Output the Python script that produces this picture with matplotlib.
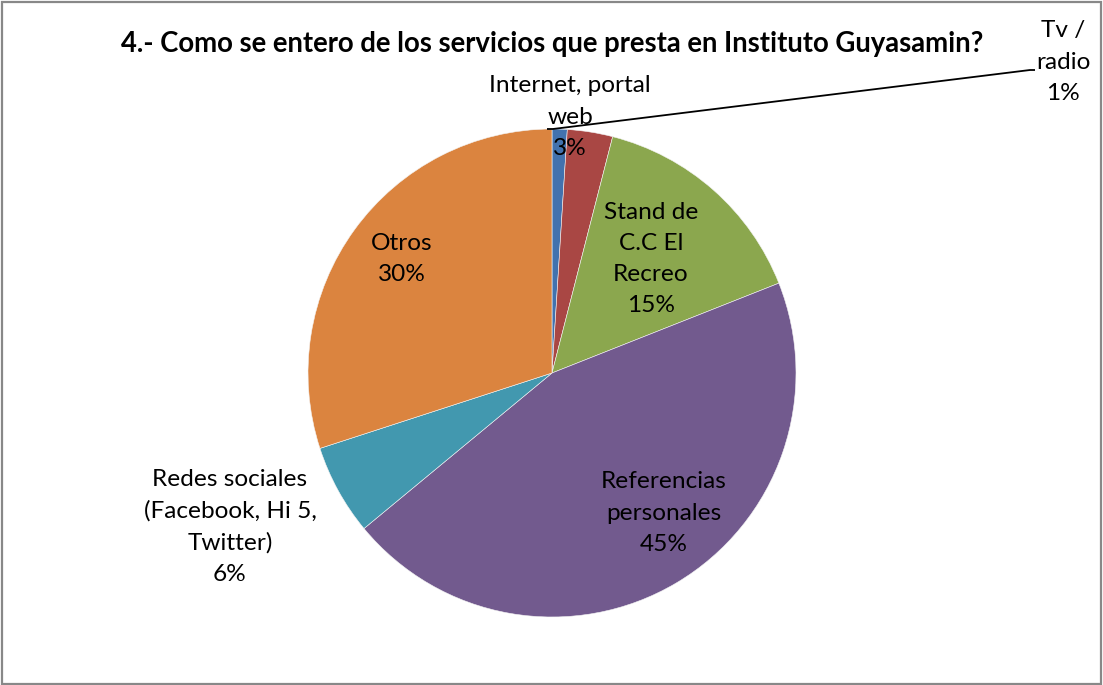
import matplotlib
matplotlib.use("Agg")
import matplotlib.pyplot as plt
from matplotlib.patches import Rectangle

# Survey answers: how people learned about the institute's services
categories = ["Tv /\nradio", "Internet, portal\nweb", "Stand de\nC.C El\nRecreo",
              "Referencias\npersonales", "Redes sociales\n(Facebook, Hi 5,\nTwitter)", "Otros"]
percent = [1, 3, 15, 45, 6, 30]
colors = ["#4272AE", "#A94744", "#8BA74E", "#725A8E", "#4298AF", "#DB843F"]
title = "4.- Como se entero de los servicios que presta en Instituto Guyasamin?"

W, H = 1103, 685
fig = plt.figure(figsize=(W / 100, H / 100), dpi=100)
ax = fig.add_axes([0, 0, 1, 1])

cx, cy, R = 552, H - 373, 244
wedges, _ = ax.pie(percent, colors=colors, startangle=90, counterclock=False,
                   center=(cx, cy), radius=R, frame=True,
                   wedgeprops=dict(linewidth=0.4, edgecolor="#f4f4f4"))
ax.set_xlim(0, W)
ax.set_ylim(0, H)
ax.set_aspect("equal")
ax.axis("off")

# Data label positions (pixel coordinates, y measured from top)
label_pos = [(1063, 62), (570, 117), (651, 259), (664, 513), (230, 527), (402, 259)]
font = ["Lato", "DejaVu Sans"]
for txt, v, (x, y) in zip(categories, percent, label_pos):
    ax.text(x, H - y, f"{txt}\n{v}%", ha="center", va="center", fontsize=17.6,
            family=font, color="#000000", linespacing=1.6)

# Leader line for the smallest slice
ax.plot([547, 553, 1030, 1035], [H - 129, H - 129, H - 70, H - 70],
        color="black", lw=1.3, solid_capstyle="butt")

ax.text(552, H - 44, title, ha="center", va="center", fontsize=19.8,
        fontweight="bold", family=font)

# Chart frame
fig.patches.append(Rectangle((0.002, 0.002), 0.996, 0.995, transform=fig.transFigure,
                             fill=False, edgecolor="#888888", lw=1.6))

fig.savefig("out.png", dpi=100)
